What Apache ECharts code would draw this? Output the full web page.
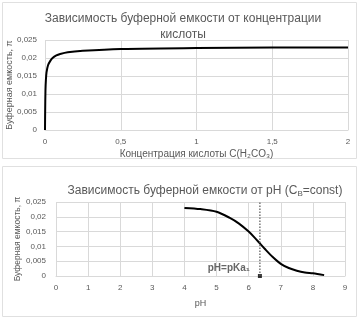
<!DOCTYPE html>
<html><head><meta charset="utf-8">
<script src="https://cdn.jsdelivr.net/npm/echarts@6/dist/echarts.min.js"></script>
<style>html,body{margin:0;padding:0;background:#fff}#c{width:360px;height:320px}</style>
</head><body><div id="c"></div>
<script>
// Chart 1: buffer capacity vs acid concentration
const concX = [0, 0.001, 0.003, 0.006, 0.01, 0.02, 0.035, 0.05, 0.075, 0.1, 0.15, 0.25, 0.5, 1, 1.5, 2];
const concY = [0, 0.005, 0.011, 0.014, 0.016, 0.018, 0.0192, 0.0200, 0.0207, 0.0211, 0.0216, 0.0220, 0.0225, 0.0228, 0.0229, 0.0229];
// Chart 2: buffer capacity vs pH
const phX = [4, 4.5, 5, 5.4, 5.7, 6, 6.2, 6.35, 6.5, 6.75, 7, 7.25, 7.5, 7.75, 8, 8.35];
const phY = [0.0230, 0.0226, 0.0217, 0.0197, 0.0177, 0.0150, 0.0128, 0.0110, 0.0092, 0.0064, 0.0041, 0.0027, 0.0018, 0.0012, 0.0009, 0.0003];
const pKa1 = 6.35;
const yTicks = [0, 0.005, 0.01, 0.015, 0.02, 0.025];

const txt = '#595959', grid = '#d9d9d9', F = 'Liberation Sans';
const fmt = v => String(v).replace('.', ',');
const chart = echarts.init(document.getElementById('c'));
const yAxisBase = (gi, gap, margin, nfs) => ({
  gridIndex: gi, type: 'value', min: yTicks[0], max: yTicks[yTicks.length-1], interval: 0.005,
  name: 'Буферная емкость, π', nameLocation: 'middle', nameGap: gap, nameMoveOverlap: false,
  nameTruncate: {maxWidth: 200},
  nameTextStyle: {color: txt, fontSize: nfs, fontFamily: F},
  axisLabel: {color: txt, fontSize: 8, fontFamily: F, formatter: fmt, margin: margin},
  axisLine: {show: false}, axisTick: {show: false},
  splitLine: {lineStyle: {color: grid, width: 1}}
});
chart.setOption({
  animation: false,
  title: [
    {text: 'Зависимость буферной емкости от концентрации\nкислоты', left: 178, textAlign: 'center', top: 6,
     textStyle: {color: txt, fontSize: 12, fontWeight: 'normal', fontFamily: F, lineHeight: 16}},
    {text: '{a|Зависимость буферной емкости от pH (C}{s|B}{a|=const)}', left: 200, textAlign: 'center', top: 178,
     textStyle: {fontWeight: 'normal', rich: {a: {color: txt, fontSize: 12, fontFamily: F, fontWeight: 'normal'}, s: {color: txt, fontSize: 8, fontFamily: F, fontWeight: 'normal', padding: [7,0,0,0]}}}}
  ],
  graphic: [
    {type: 'rect', shape: {x: 2.5, y: 2.5, width: 354, height: 156}, style: {fill: 'none', stroke: '#e0e0e0', lineWidth: 1}},
    {type: 'rect', shape: {x: 2.5, y: 166.5, width: 354, height: 150}, style: {fill: 'none', stroke: '#e0e0e0', lineWidth: 1}}
  ],
  grid: [
    {left: 45, right: 12, top: 40, bottom: 190, outerBoundsMode: 'none', containLabel: false},
    {left: 56, right: 15, top: 202, bottom: 44, outerBoundsMode: 'none', containLabel: false}
  ],
  xAxis: [
    {gridIndex: 0, type: 'value', min: 0, max: 2, interval: 0.5,
     name: 'Концентрация кислоты C(H₂CO₃)', nameLocation: 'middle', nameGap: 19,
     nameTextStyle: {color: txt, fontSize: 10, fontFamily: F},
     axisLabel: {color: txt, fontSize: 8, fontFamily: F, formatter: fmt, margin: 8},
     axisLine: {lineStyle: {color: grid}}, axisTick: {show: false},
     splitLine: {show: true, lineStyle: {color: grid}}},
    {gridIndex: 1, type: 'value', min: 0, max: 9, interval: 1,
     name: 'pH', nameLocation: 'middle', nameGap: 23,
     nameTextStyle: {color: txt, fontSize: 9, fontFamily: F},
     axisLabel: {color: txt, fontSize: 8, fontFamily: F, margin: 8},
     axisLine: {lineStyle: {color: grid}}, axisTick: {show: false},
     splitLine: {show: true, lineStyle: {color: grid}}}
  ],
  yAxis: [yAxisBase(0, 31, 8, 9), yAxisBase(1, 34, 10, 8.5)],
  series: [
    {type: 'line', xAxisIndex: 0, yAxisIndex: 0, smooth: 0.3, showSymbol: false,
     lineStyle: {color: '#000', width: 2}, data: concX.map((x, i) => [x, concY[i]])},
    {type: 'line', xAxisIndex: 1, yAxisIndex: 1, smooth: 0.3, showSymbol: false,
     lineStyle: {color: '#000', width: 2}, data: phX.map((x, i) => [x, phY[i]])},
    {type: 'line', xAxisIndex: 1, yAxisIndex: 1, showSymbol: false,
     lineStyle: {color: '#555', width: 1.2, type: [1.5, 1.5]}, data: [[pKa1, 0], [pKa1, yTicks[yTicks.length-1]]]},
    {type: 'scatter', xAxisIndex: 1, yAxisIndex: 1, symbol: 'rect', symbolSize: 4,
     itemStyle: {color: '#000'}, data: [[pKa1, 0]],
     label: {show: true, formatter: 'pH=pKa₁', position: 'left', distance: 8, offset: [0, -8],
             color: '#404040', fontSize: 10, fontWeight: 'bold', fontFamily: F}}
  ]
});
</script></body></html>
